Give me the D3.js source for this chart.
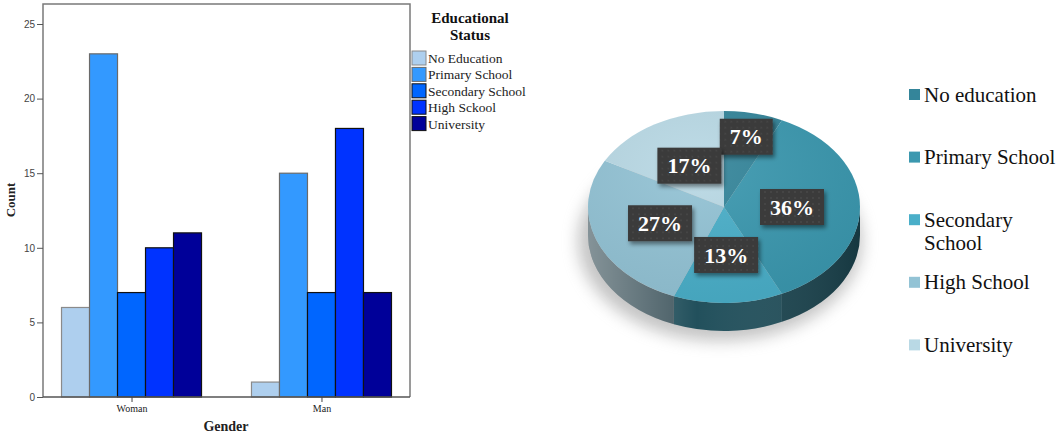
<!DOCTYPE html>
<html>
<head>
<meta charset="utf-8">
<script src="https://cdn.jsdelivr.net/npm/d3@7"></script>
<style>
  body { margin: 0; background: #fff; }
  svg { display: block; }
</style>
</head>
<body>
<svg id="chart" width="1058" height="436"></svg>
<script>
// ---- bar chart data ----
const genders = ['Woman', 'Man'];
const eduLevels = ['No Education', 'Primary School', 'Secondary School', 'High Sckool', 'University'];
const womanCounts = [6, 23, 7, 10, 11];
const manCounts = [1, 15, 7, 18, 7];
const yTicks = [0, 5, 10, 15, 20, 25];

// ---- pie data ----
const pieLabels = ['No education', 'Primary School', 'Secondary School', 'High School', 'University'];
const piePercents = [7, 36, 13, 27, 17];

const barColors = ['#aecfee', '#3399ff', '#0066ff', '#0033ff', '#000099'];
const barStrokes = ['#8a8a8a', '#6a6a6a', '#111', '#111', '#111'];
const pieColors = ['#34859a', '#3b98af', '#4aafc9', '#93c3d5', '#b9d9e5'];

const svg = d3.select('#chart');
const defs = svg.append('defs');

/* ================= Bar chart ================= */
const frame = { left: 43, right: 410, top: 4, bottom: 397 };

const x0 = d3.scalePoint()
  .domain(genders)
  .range([frame.left, frame.right])
  .padding(0.466);
const x1 = d3.scaleBand()
  .domain(eduLevels)
  .range([-70, 70]);
const y = d3.scaleLinear().domain([0, 25]).range([frame.bottom, 24]);

const counts = { Woman: womanCounts, Man: manCounts };
const barData = genders.flatMap((g) =>
  eduLevels.map((e, i) => ({ gender: g, level: e, idx: i, value: counts[g][i] }))
);

const bars = svg.append('g');
bars.selectAll('rect')
  .data(barData)
  .join('rect')
  .attr('x', (d) => x0(d.gender) + x1(d.level))
  .attr('y', (d) => y(d.value))
  .attr('width', x1.bandwidth())
  .attr('height', (d) => y(0) - y(d.value))
  .attr('fill', (d) => barColors[d.idx])
  .attr('stroke', (d) => barStrokes[d.idx])
  .attr('stroke-width', 1.2);

// frame
svg.append('path')
  .attr('d', `M${frame.left},${frame.bottom}V${frame.top}H${frame.right}V${frame.bottom}`)
  .attr('fill', 'none')
  .attr('stroke', '#7a7a7a')
  .attr('stroke-width', 1.5);

const yAxisG = svg.append('g')
  .attr('transform', `translate(${frame.left},0)`)
  .call(d3.axisLeft(y).tickValues(yTicks).tickSize(6).tickPadding(2));
yAxisG.select('.domain').remove();
yAxisG.selectAll('line').attr('stroke', '#555');
yAxisG.selectAll('text')
  .attr('fill', '#444')
  .style('font-family', '"Liberation Sans", Arial, sans-serif')
  .style('font-size', '10px');

const xAxisG = svg.append('g')
  .attr('transform', `translate(0,${frame.bottom})`)
  .call(d3.axisBottom(x0).tickSize(5).tickPadding(3));
xAxisG.select('.domain')
  .attr('d', `M${frame.left},0H${frame.right}`)
  .attr('stroke', '#555')
  .attr('stroke-width', 1.5);
xAxisG.selectAll('line').attr('stroke', '#444');
xAxisG.selectAll('text')
  .attr('fill', '#222')
  .style('font-family', '"Liberation Serif", "Times New Roman", serif')
  .style('font-size', '10px');

// axis titles
svg.append('text')
  .attr('x', 226).attr('y', 431)
  .attr('text-anchor', 'middle')
  .style('font-family', '"Liberation Serif", serif')
  .style('font-weight', 'bold')
  .style('font-size', '14px')
  .attr('fill', '#222')
  .text('Gender');

svg.append('text')
  .attr('transform', 'translate(15,200) rotate(-90)')
  .attr('text-anchor', 'middle')
  .style('font-family', '"Liberation Serif", serif')
  .style('font-weight', 'bold')
  .style('font-size', '13px')
  .attr('fill', '#222')
  .text('Count');

// legend
const leg = svg.append('g');
leg.selectAll('text.title')
  .data(['Educational', 'Status'])
  .join('text')
  .attr('class', 'title')
  .attr('x', 470)
  .attr('y', (d, i) => 23 + i * 17)
  .attr('text-anchor', 'middle')
  .style('font-family', '"Liberation Serif", serif')
  .style('font-weight', 'bold')
  .style('font-size', '15px')
  .attr('fill', '#111')
  .text((d) => d);

const legItems = leg.selectAll('g.item')
  .data(eduLevels)
  .join('g')
  .attr('class', 'item')
  .attr('transform', (d, i) => `translate(412,${51 + i * 16.4})`);
legItems.append('rect')
  .attr('width', 14).attr('height', 14)
  .attr('fill', (d, i) => barColors[i])
  .attr('stroke', (d, i) => barStrokes[i])
  .attr('stroke-width', 1);
legItems.append('text')
  .attr('x', 16).attr('y', 12)
  .style('font-family', '"Liberation Serif", serif')
  .style('font-size', '13.5px')
  .attr('fill', '#222')
  .text((d) => d);

/* ================= 3D pie chart ================= */
const cx = 724, cy = 207, rx = 136, ry = 96, depth = 28;
const pt = (a, dy = 0) => [cx + rx * Math.sin(a), cy - ry * Math.cos(a) + dy];

const arcs = d3.pie().sort(null).value((d) => d)(piePercents);

// soft shadow
const blur = defs.append('filter').attr('id', 'pieShadow')
  .attr('x', '-30%').attr('y', '-30%').attr('width', '160%').attr('height', '160%');
blur.append('feGaussianBlur').attr('stdDeviation', 8);
svg.append('ellipse')
  .attr('cx', cx - 4).attr('cy', cy + depth + 6)
  .attr('rx', rx + 6).attr('ry', ry + 4)
  .attr('fill', '#8a8a8a')
  .attr('opacity', 0.5)
  .attr('filter', 'url(#pieShadow)');

// side lighting gradient
const sideGrad = defs.append('linearGradient').attr('id', 'sideGrad')
  .attr('gradientUnits', 'userSpaceOnUse')
  .attr('x1', cx - rx).attr('x2', cx + rx).attr('y1', 0).attr('y2', 0);
sideGrad.append('stop').attr('offset', 0).attr('stop-color', '#fff').attr('stop-opacity', 0.35);
sideGrad.append('stop').attr('offset', 0.4).attr('stop-color', '#fff').attr('stop-opacity', 0);
sideGrad.append('stop').attr('offset', 1).attr('stop-color', '#000').attr('stop-opacity', 0.2);

const sidePath = (d) => {
  const s = Math.max(d.startAngle, Math.PI / 2);
  const e = Math.min(d.endAngle, 1.5 * Math.PI);
  if (s >= e) return null;
  const [a, b] = [pt(s), pt(e)];
  const [c, f] = [pt(e, depth), pt(s, depth)];
  return `M${a}A${rx},${ry} 0 0 1 ${b}L${c}A${rx},${ry} 0 0 0 ${f}Z`;
};

const pieG = svg.append('g');
const sides = arcs.filter((d) => sidePath(d));
pieG.selectAll('path.side')
  .data(sides)
  .join('path')
  .attr('class', 'side')
  .attr('d', sidePath)
  .attr('fill', (d) => d3.color(pieColors[d.index]).darker(2.2));
pieG.selectAll('path.sideShade')
  .data(sides)
  .join('path')
  .attr('class', 'sideShade')
  .attr('d', sidePath)
  .attr('fill', 'url(#sideGrad)');

const topPath = (d) => {
  const large = d.endAngle - d.startAngle > Math.PI ? 1 : 0;
  return `M${cx},${cy}L${pt(d.startAngle)}A${rx},${ry} 0 ${large} 1 ${pt(d.endAngle)}Z`;
};
pieG.selectAll('path.top')
  .data(arcs)
  .join('path')
  .attr('class', 'top')
  .attr('d', topPath)
  .attr('fill', (d) => pieColors[d.index]);

// subtle top highlight
const topGrad = defs.append('radialGradient').attr('id', 'topGrad')
  .attr('cx', '40%').attr('cy', '30%').attr('r', '70%');
topGrad.append('stop').attr('offset', 0).attr('stop-color', '#fff').attr('stop-opacity', 0.08);
topGrad.append('stop').attr('offset', 1).attr('stop-color', '#000').attr('stop-opacity', 0.06);
pieG.append('ellipse')
  .attr('cx', cx).attr('cy', cy).attr('rx', rx).attr('ry', ry)
  .attr('fill', 'url(#topGrad)');

// label boxes
const pat = defs.append('pattern').attr('id', 'dots')
  .attr('width', 6).attr('height', 6).attr('patternUnits', 'userSpaceOnUse');
pat.append('rect').attr('width', 6).attr('height', 6).attr('fill', '#3a3a3a');
pat.append('circle').attr('cx', 3).attr('cy', 3).attr('r', 0.8).attr('fill', '#505050');

const ds = defs.append('filter').attr('id', 'boxShadow')
  .attr('x', '-20%').attr('y', '-20%').attr('width', '150%').attr('height', '160%');
ds.append('feDropShadow').attr('dx', 2).attr('dy', 3).attr('stdDeviation', 2)
  .attr('flood-color', '#000').attr('flood-opacity', 0.45);

const labels = pieG.selectAll('g.lbl')
  .data(arcs)
  .join('g')
  .attr('class', 'lbl')
  .attr('transform', (d) => {
    const mid = (d.startAngle + d.endAngle) / 2;
    const f = d.value < 10 ? 0.75 : 0.5;
    return `translate(${cx + rx * f * Math.sin(mid)},${cy - ry * f * Math.cos(mid)})`;
  });
labels.append('text')
  .attr('text-anchor', 'middle')
  .attr('dy', '0.35em')
  .style('font-family', '"Liberation Serif", "Times New Roman", serif')
  .style('font-weight', 'bold')
  .style('font-size', '22px')
  .attr('fill', '#fff')
  .text((d) => `${d.value}%`);
labels.each(function () {
  const g = d3.select(this);
  const w = g.select('text').node().getComputedTextLength() + 20;
  g.insert('rect', 'text')
    .attr('x', -w / 2).attr('y', -18)
    .attr('width', w).attr('height', 36)
    .attr('fill', 'url(#dots)')
    .attr('filter', 'url(#boxShadow)');
});

// pie legend
const pieLeg = svg.append('g').attr('transform', 'translate(909,0)');
const pieItems = pieLeg.selectAll('g')
  .data(pieLabels)
  .join('g')
  .attr('transform', (d, i) => `translate(0,${94.5 + i * 62.6})`);
pieItems.append('rect')
  .attr('y', -5.5).attr('width', 11).attr('height', 11)
  .attr('fill', (d, i) => pieColors[i]);
pieItems.append('text')
  .attr('x', 15)
  .attr('y', 7)
  .style('font-family', '"Liberation Serif", "Times New Roman", serif')
  .style('font-size', '21px')
  .attr('fill', '#111')
  .each(function (d) {
    const words = d === 'Secondary School' ? ['Secondary', 'School'] : [d];
    d3.select(this).selectAll('tspan')
      .data(words)
      .join('tspan')
      .attr('x', 15)
      .attr('dy', (w, i) => (i === 0 ? 0 : 23))
      .text((w) => w);
  });
</script>
</body>
</html>
